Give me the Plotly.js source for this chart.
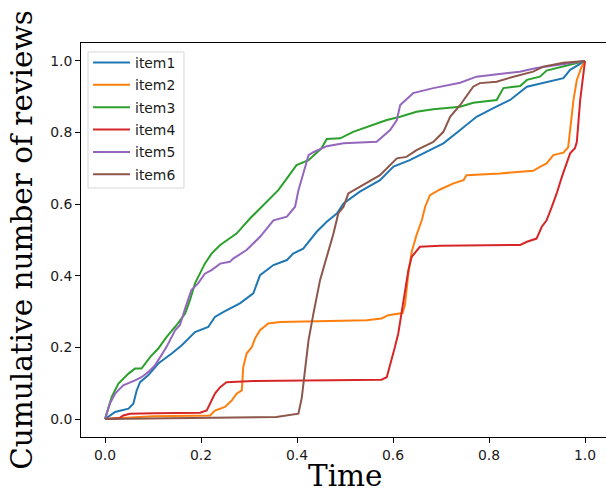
<!DOCTYPE html>
<html>
<head>
<meta charset="utf-8">
<script src="https://cdn.plot.ly/plotly-3.0.1.min.js"></script>
<style>
html, body { margin: 0; padding: 0; overflow: hidden; background: #fff; }
#chart { width: 609px; height: 490px; }
</style>
</head>
<body>
<div id="chart"></div>
<script>
const seriesNames = ["item1", "item2", "item3", "item4", "item5", "item6"];
const seriesColors = ["#1f77b4", "#ff7f0e", "#2ca02c", "#d62728", "#9467bd", "#8c564b"];

const item1X = [0, 0.021, 0.049, 0.059, 0.066, 0.073, 0.09, 0.111, 0.139, 0.16, 0.1875, 0.215, 0.229, 0.247, 0.281, 0.309, 0.323, 0.351, 0.379, 0.392, 0.413, 0.427, 0.441, 0.462, 0.483, 0.497, 0.531, 0.573, 0.601, 0.635, 0.67, 0.705, 0.74, 0.774, 0.809, 0.844, 0.879, 0.92, 0.955, 0.969, 1];
const item1Y = [0, 0.02, 0.029, 0.043, 0.08, 0.103, 0.122, 0.155, 0.183, 0.206, 0.243, 0.257, 0.285, 0.299, 0.323, 0.351, 0.402, 0.43, 0.444, 0.462, 0.476, 0.5, 0.523, 0.551, 0.574, 0.602, 0.635, 0.667, 0.705, 0.723, 0.746, 0.77, 0.807, 0.844, 0.868, 0.891, 0.928, 0.942, 0.952, 0.975, 1];

const item2X = [0, 0.05, 0.1, 0.219, 0.229, 0.25, 0.264, 0.274, 0.285, 0.288, 0.295, 0.306, 0.3125, 0.323, 0.34, 0.365, 0.448, 0.545, 0.576, 0.59, 0.62, 0.625, 0.632, 0.639, 0.649, 0.66, 0.667, 0.677, 0.698, 0.726, 0.747, 0.753, 0.823, 0.892, 0.906, 0.92, 0.934, 0.955, 0.965, 0.976, 0.983, 0.993, 1];
const item2Y = [0, 0.005, 0.008, 0.01, 0.024, 0.034, 0.052, 0.071, 0.08, 0.145, 0.183, 0.201, 0.225, 0.248, 0.267, 0.271, 0.274, 0.276, 0.281, 0.29, 0.296, 0.32, 0.406, 0.467, 0.514, 0.555, 0.593, 0.625, 0.641, 0.658, 0.667, 0.681, 0.686, 0.693, 0.704, 0.714, 0.737, 0.744, 0.759, 0.891, 0.947, 0.984, 1];

const item3X = [0, 0.014, 0.028, 0.049, 0.0625, 0.076, 0.094, 0.111, 0.128, 0.149, 0.167, 0.177, 0.1875, 0.208, 0.222, 0.24, 0.274, 0.302, 0.323, 0.344, 0.361, 0.379, 0.399, 0.424, 0.434, 0.451, 0.462, 0.49, 0.517, 0.545, 0.587, 0.615, 0.649, 0.684, 0.74, 0.767, 0.816, 0.83, 0.865, 0.879, 0.906, 0.92, 0.955, 1];
const item3Y = [0, 0.062, 0.099, 0.127, 0.141, 0.141, 0.173, 0.197, 0.229, 0.262, 0.295, 0.332, 0.379, 0.434, 0.462, 0.486, 0.518, 0.56, 0.588, 0.616, 0.639, 0.672, 0.709, 0.723, 0.735, 0.756, 0.782, 0.784, 0.802, 0.816, 0.835, 0.844, 0.858, 0.865, 0.872, 0.883, 0.891, 0.924, 0.93, 0.947, 0.956, 0.973, 0.984, 1];

const item4X = [0, 0.03, 0.038, 0.052, 0.1, 0.198, 0.212, 0.223, 0.229, 0.24, 0.253, 0.309, 0.448, 0.576, 0.587, 0.597, 0.604, 0.611, 0.618, 0.625, 0.632, 0.639, 0.656, 0.698, 0.865, 0.879, 0.899, 0.91, 0.92, 0.931, 0.941, 0.952, 0.962, 0.969, 0.979, 0.983, 0.99, 0.997, 1];
const item4Y = [0, 0.003, 0.01, 0.015, 0.016, 0.018, 0.024, 0.052, 0.071, 0.089, 0.103, 0.106, 0.108, 0.11, 0.117, 0.164, 0.201, 0.239, 0.295, 0.36, 0.416, 0.453, 0.481, 0.484, 0.486, 0.495, 0.504, 0.537, 0.555, 0.593, 0.63, 0.677, 0.714, 0.742, 0.756, 0.774, 0.891, 0.966, 1];

const item5X = [0, 0.01, 0.021, 0.038, 0.0625, 0.076, 0.09, 0.104, 0.115, 0.128, 0.146, 0.156, 0.167, 0.18, 0.194, 0.208, 0.222, 0.24, 0.26, 0.267, 0.295, 0.323, 0.351, 0.379, 0.396, 0.403, 0.417, 0.424, 0.434, 0.462, 0.497, 0.566, 0.594, 0.608, 0.615, 0.635, 0.642, 0.684, 0.719, 0.74, 0.774, 0.864, 0.899, 1];
const item5Y = [0, 0.043, 0.071, 0.094, 0.108, 0.117, 0.131, 0.15, 0.173, 0.201, 0.248, 0.262, 0.309, 0.36, 0.379, 0.406, 0.416, 0.434, 0.439, 0.448, 0.472, 0.509, 0.555, 0.565, 0.593, 0.639, 0.704, 0.737, 0.745, 0.762, 0.77, 0.774, 0.807, 0.835, 0.877, 0.9, 0.91, 0.924, 0.933, 0.939, 0.956, 0.97, 0.98, 1];

const item6X = [0, 0.1, 0.357, 0.403, 0.41, 0.417, 0.424, 0.434, 0.448, 0.462, 0.476, 0.486, 0.497, 0.507, 0.531, 0.545, 0.573, 0.608, 0.628, 0.649, 0.684, 0.705, 0.719, 0.74, 0.767, 0.781, 0.816, 0.851, 0.892, 0.913, 0.955, 1];
const item6Y = [0, 0.002, 0.006, 0.015, 0.06, 0.14, 0.22, 0.293, 0.388, 0.453, 0.518, 0.574, 0.593, 0.63, 0.649, 0.658, 0.681, 0.728, 0.732, 0.751, 0.774, 0.802, 0.844, 0.877, 0.928, 0.938, 0.942, 0.956, 0.97, 0.984, 0.995, 1];

const tickVals = [0, 0.2, 0.4, 0.6, 0.8, 1.0];
const tickText = ["0.0", "0.2", "0.4", "0.6", "0.8", "1.0"];
const xTitle = "Time";
const yTitle = "Cumulative number of reviews";

const xs = [item1X, item2X, item3X, item4X, item5X, item6X];
const ys = [item1Y, item2Y, item3Y, item4Y, item5Y, item6Y];

const traces = seriesNames.map((name, i) => ({
  type: "scatter",
  mode: "lines",
  name: name,
  legendgroup: name,
  x: xs[i],
  y: ys[i],
  line: { color: seriesColors[i], width: 2 }
}));

const axisCommon = {
  range: [-0.05, 1.05],
  tickvals: tickVals,
  ticktext: tickText,
  ticks: "outside",
  ticklen: 5,
  tickwidth: 1,
  tickcolor: "#000",
  showline: true,
  linecolor: "#000",
  linewidth: 1,
  mirror: true,
  showgrid: false,
  zeroline: false,
  tickfont: { family: "DejaVu Sans", size: 13.9, color: "#1a1a1a" }
};

const titleFont = { family: "DejaVu Serif", size: 29.5, color: "#000" };

const layout = {
  width: 609,
  height: 490,
  margin: { l: 81, r: 0, t: 43, b: 53 },
  paper_bgcolor: "#fff",
  plot_bgcolor: "#fff",
  showlegend: true,
  legend: {
    x: 0.0133, y: 0.990, xanchor: "left", yanchor: "top",
    bgcolor: "rgba(0,0,0,0)",
    borderwidth: 0,
    itemwidth: 37,
    tracegroupgap: 1.3,
    font: { family: "DejaVu Sans", size: 13.9, color: "#1a1a1a" }
  },
  shapes: [{
    type: "rect", xref: "paper", yref: "paper", layer: "below",
    x0: 0.01326, x1: 0.195, y0: 0.632, y1: 0.9772,
    line: { color: "#d6d6d6", width: 1 },
    fillcolor: "rgba(255,255,255,0.8)"
  }],
  annotations: [{
    text: xTitle, xref: "paper", yref: "paper", x: 0.5, y: -0.099,
    xanchor: "center", yanchor: "middle", showarrow: false, font: titleFont
  }],
  xaxis: Object.assign({}, axisCommon),
  yaxis: Object.assign({}, axisCommon, {
    title: { text: yTitle, font: titleFont, standoff: 8 }
  })
};

Plotly.newPlot("chart", traces, layout, { staticPlot: true, displayModeBar: false });
</script>
</body>
</html>
